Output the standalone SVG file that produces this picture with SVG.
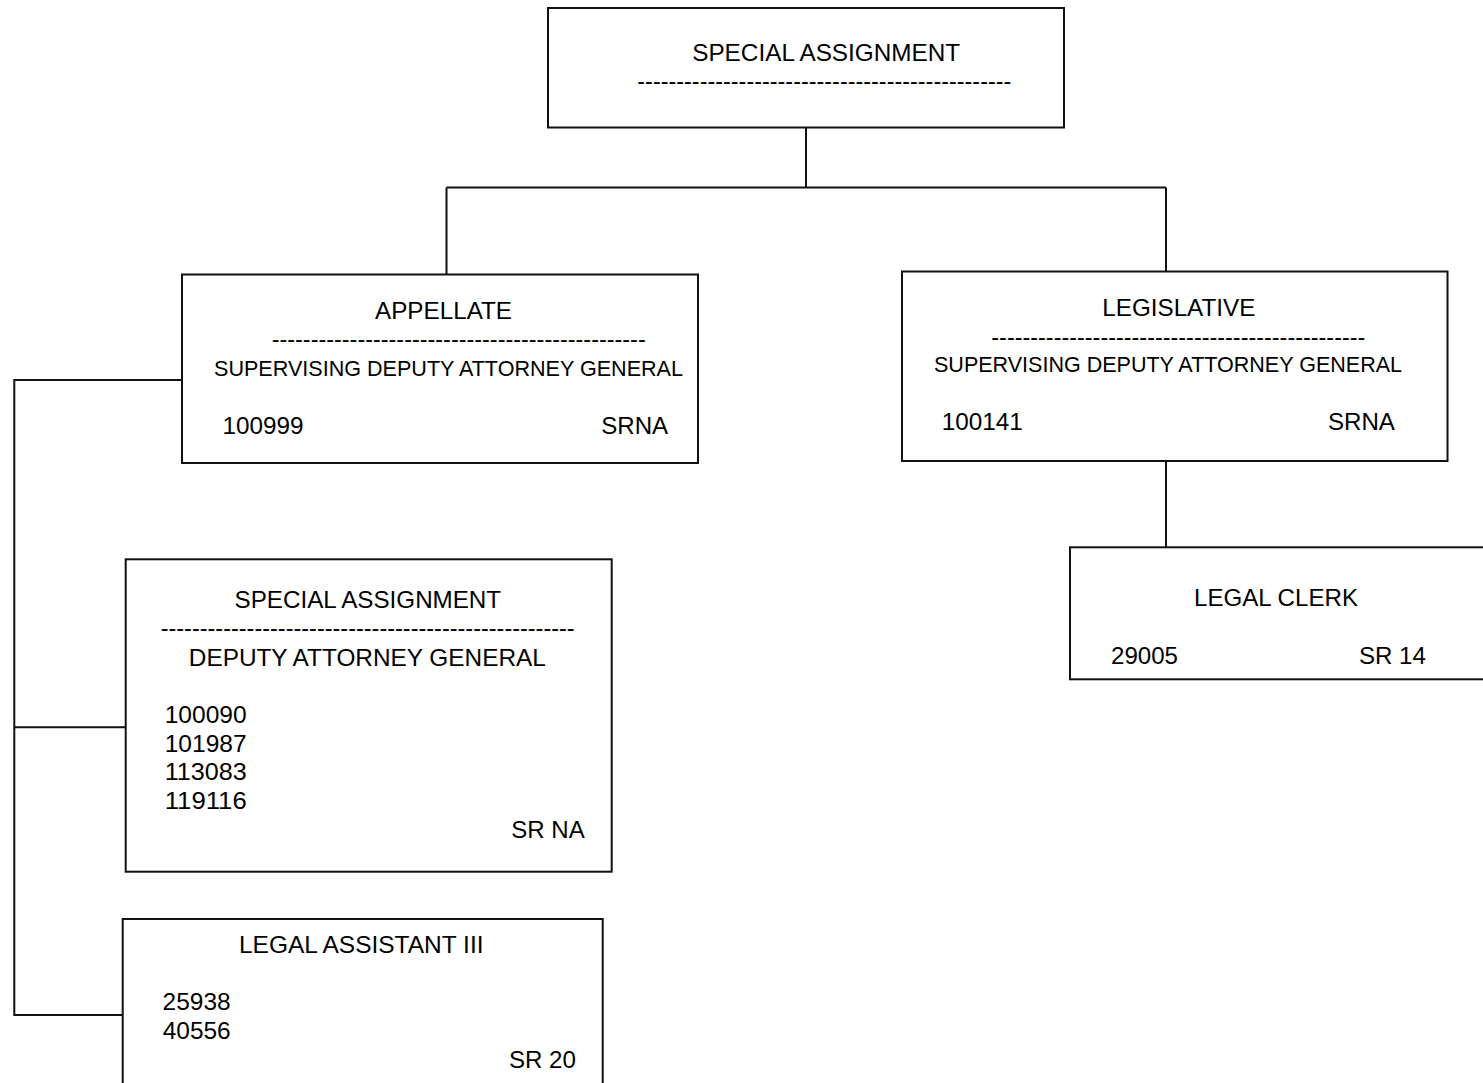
<svg xmlns="http://www.w3.org/2000/svg" width="1483" height="1083" viewBox="0 0 1483 1083">
<style>
.box{fill:none;stroke:#111;stroke-width:2}
.con{fill:none;stroke:#111;stroke-width:2}
text{font-family:"Liberation Sans",Arial,sans-serif;font-size:24px;fill:#000}
.sm{font-size:21.2px}
</style>
<rect width="1483" height="1083" fill="#fff"/>
<g id="connectors">
<path class="con" d="M806,127 V187.5 M446.5,187.5 H1166 M446.5,187.5 V274.5 M1166,187.5 V271.5 M1166,461 V547.3 M14.3,380 H182 M14.3,379 V1016 M14.3,727.3 H125.7 M14.3,1015 H122.7"/>
</g>
<g id="node-top">
<rect class="box" x="548" y="8" width="516" height="119.5"/>
<text x="692.2" y="61" textLength="268" lengthAdjust="spacingAndGlyphs">SPECIAL ASSIGNMENT</text>
<text x="637.3" y="88.7" textLength="374" lengthAdjust="spacingAndGlyphs">------------------------------------------------</text>
</g>
<g id="node-appellate">
<rect class="box" x="182" y="274.5" width="516" height="188.5"/>
<text x="375" y="319" textLength="137" lengthAdjust="spacingAndGlyphs">APPELLATE</text>
<text x="271.7" y="347" textLength="374" lengthAdjust="spacingAndGlyphs">------------------------------------------------</text>
<text class="sm" x="214" y="376" textLength="469" lengthAdjust="spacingAndGlyphs">SUPERVISING DEPUTY ATTORNEY GENERAL</text>
<text x="222.4" y="434" textLength="81" lengthAdjust="spacingAndGlyphs">100999</text>
<text x="601.2" y="433.5" textLength="67" lengthAdjust="spacingAndGlyphs">SRNA</text>
</g>
<g id="node-legislative">
<rect class="box" x="902" y="271.5" width="545.5" height="189.5"/>
<text x="1102.3" y="315.7" textLength="153" lengthAdjust="spacingAndGlyphs">LEGISLATIVE</text>
<text x="991.3" y="345.4" textLength="374" lengthAdjust="spacingAndGlyphs">------------------------------------------------</text>
<text class="sm" x="934" y="372.3" textLength="468" lengthAdjust="spacingAndGlyphs">SUPERVISING DEPUTY ATTORNEY GENERAL</text>
<text x="941.7" y="430" textLength="81" lengthAdjust="spacingAndGlyphs">100141</text>
<text x="1327.9" y="430" textLength="67" lengthAdjust="spacingAndGlyphs">SRNA</text>
</g>
<g id="node-legal-clerk">
<rect class="box" x="1070" y="547.3" width="430" height="132"/>
<text x="1194" y="606" textLength="164" lengthAdjust="spacingAndGlyphs">LEGAL CLERK</text>
<text x="1111" y="663.7" textLength="67" lengthAdjust="spacingAndGlyphs">29005</text>
<text x="1358.9" y="663.7" textLength="67" lengthAdjust="spacingAndGlyphs">SR 14</text>
</g>
<g id="node-special-dag">
<rect class="box" x="125.7" y="559.3" width="486" height="312.4"/>
<text x="234.6" y="608.3" textLength="266.5" lengthAdjust="spacingAndGlyphs">SPECIAL ASSIGNMENT</text>
<text x="160.7" y="635.7" textLength="414" lengthAdjust="spacingAndGlyphs">-----------------------------------------------------</text>
<text x="188.8" y="665.7" textLength="357" lengthAdjust="spacingAndGlyphs">DEPUTY ATTORNEY GENERAL</text>
<text x="164.7" y="723" textLength="82" lengthAdjust="spacingAndGlyphs">100090</text>
<text x="164.7" y="751.5" textLength="82" lengthAdjust="spacingAndGlyphs">101987</text>
<text x="164.7" y="780.2" textLength="82" lengthAdjust="spacingAndGlyphs">113083</text>
<text x="164.7" y="808.7" textLength="82" lengthAdjust="spacingAndGlyphs">119116</text>
<text x="511.2" y="838" textLength="73.5" lengthAdjust="spacingAndGlyphs">SR NA</text>
</g>
<g id="node-legal-assistant">
<rect class="box" x="122.7" y="919" width="480" height="180"/>
<text x="239" y="953.3" textLength="244.5" lengthAdjust="spacingAndGlyphs">LEGAL ASSISTANT III</text>
<text x="162.6" y="1010" textLength="68" lengthAdjust="spacingAndGlyphs">25938</text>
<text x="162.7" y="1039" textLength="68" lengthAdjust="spacingAndGlyphs">40556</text>
<text x="508.9" y="1068" textLength="67" lengthAdjust="spacingAndGlyphs">SR 20</text>
</g>
</svg>
